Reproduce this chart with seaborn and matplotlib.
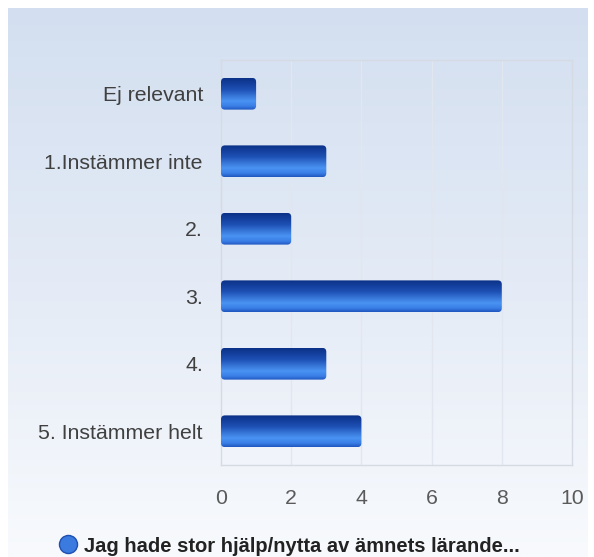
import numpy as np
import pandas as pd
import matplotlib
matplotlib.use("Agg")
import matplotlib.pyplot as plt
from matplotlib.patches import FancyBboxPatch
from matplotlib.colors import LinearSegmentedColormap
from matplotlib.lines import Line2D
import seaborn as sns

categories = ["Ej relevant", "1.Instämmer inte", "2.", "3.", "4.", "5. Instämmer helt"]
values = [1, 3, 2, 8, 3, 4]
x_ticks = [0, 2, 4, 6, 8, 10]
legend_label = "Jag hade stor hjälp/nytta av ämnets lärande..."

sns.set_theme(style="white")
plt.rcParams["font.family"] = ["Liberation Sans", "DejaVu Sans"]

df = pd.DataFrame({"cat": categories, "val": values})

W, H = 594, 557
fig = plt.figure(figsize=(W / 100, H / 100), dpi=100, facecolor="white")

# background gradient panel
bg = fig.add_axes([8 / W, 0, 580 / W, 549 / H], zorder=-10)
bg_cmap = LinearSegmentedColormap.from_list("bg", ["#d3dff0", "#e4ebf6", "#f8fafd"])
bg.imshow(np.linspace(0, 1, 256).reshape(-1, 1), aspect="auto", cmap=bg_cmap,
          extent=[0, 1, 0, 1], origin="upper")
bg.set_axis_off()

ax = fig.add_axes([221 / W, 92 / H, 351 / W, 405 / H])
ax.patch.set_alpha(0)

sns.barplot(data=df, x="val", y="cat", orient="h", width=0.47, color="#2a66d0", ax=ax)

ax.set_xlim(0, 10)
ax.set_ylim(len(categories) - 0.5, -0.5)
ax.set_xticks(x_ticks)
ax.set_xticklabels([str(t) for t in x_ticks])
ax.set_xlabel("")
ax.set_ylabel("")

for x in x_ticks[1:-1]:
    ax.axvline(x, color="#e2e6ee", lw=1.0, zorder=0)

for s in ax.spines.values():
    s.set_color("#d5dae3")
    s.set_linewidth(1.0)

ax.tick_params(axis="y", length=0, pad=13, labelsize=15.3, labelcolor="#404040")
ax.tick_params(axis="x", length=0, pad=17, labelsize=15.3, labelcolor="#5a5a5a")

# gradient bars with rounded corners
bar_cmap = LinearSegmentedColormap.from_list(
    "bar", [(0.0, "#0b3187"), (0.35, "#1d4fb3"), (0.72, "#4a93f3"), (0.88, "#3a7ee6"), (1.0, "#1e56bf")])
grad = np.linspace(0, 1, 128).reshape(-1, 1)
fig.canvas.draw()
bbox = ax.get_window_extent()
xpp = 10 / bbox.width
ypp = len(categories) / bbox.height
aspect = ypp / xpp
for p in list(ax.patches):
    x0, y0 = p.get_x(), p.get_y()
    w, h = p.get_width(), p.get_height()
    p.set_visible(False)
    rp = FancyBboxPatch((x0, y0), w, h, boxstyle=f"round,pad=0,rounding_size={4 * xpp}",
                        mutation_aspect=aspect, facecolor="none", edgecolor="none",
                        transform=ax.transData)
    ax.add_patch(rp)
    y_top, y_bot = min(y0, y0 + h), max(y0, y0 + h)
    im = ax.imshow(grad, aspect="auto", cmap=bar_cmap, extent=[x0, x0 + w, y_bot, y_top],
                   origin="upper", zorder=3, interpolation="bilinear")
    im.set_clip_path(rp)

ax.set_xlim(0, 10)
ax.set_ylim(len(categories) - 0.5, -0.5)

handle = Line2D([], [], marker="o", linestyle="none", markersize=13,
                markerfacecolor="#3b7be0", markeredgecolor="#1f4fb0", markeredgewidth=1)
leg = fig.legend([handle], [legend_label], loc="center", bbox_to_anchor=(0.486, 1 - 546 / H),
                 frameon=False, handletextpad=0.3, handlelength=1.0,
                 prop={"weight": "bold", "size": 14.5})
for t in leg.get_texts():
    t.set_color("#222222")

fig.savefig("out.png", dpi=100, facecolor="white")
